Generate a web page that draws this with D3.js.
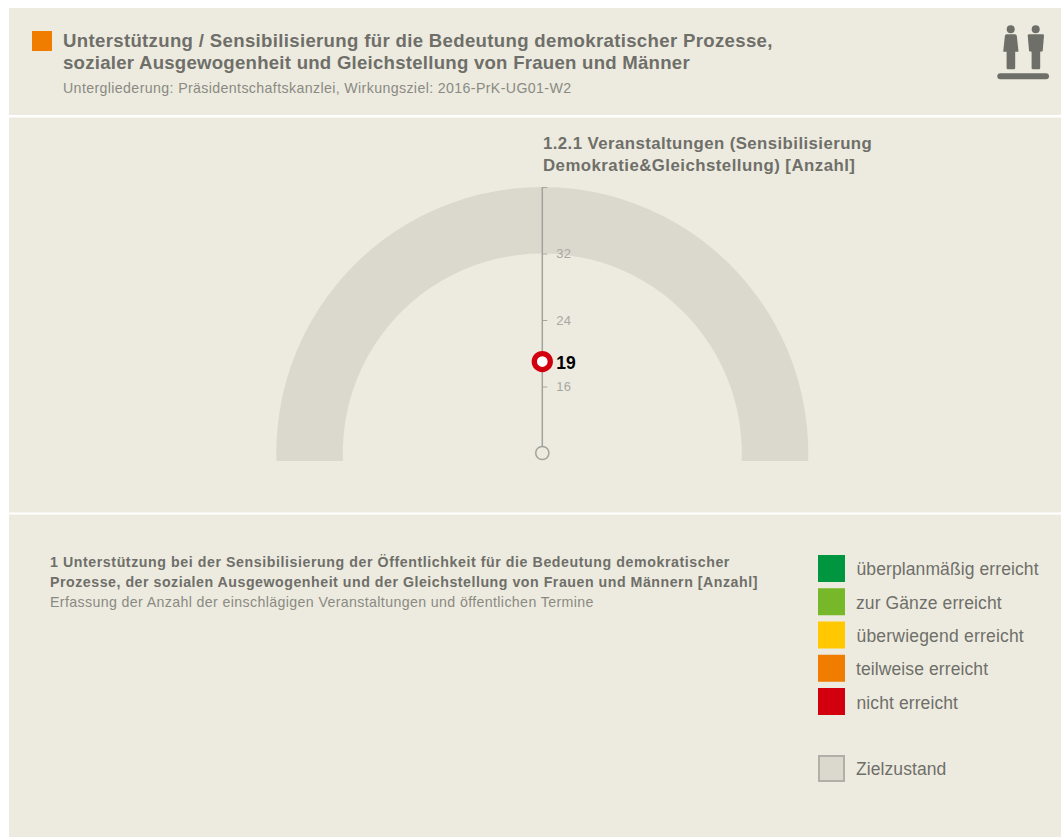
<!DOCTYPE html>
<html>
<head>
<meta charset="utf-8">
<script src="https://cdn.jsdelivr.net/npm/d3@7"></script>
<style>
html, body { margin: 0; padding: 0; background: #fff; }
svg { display: block; font-family: "Liberation Sans", sans-serif; }
</style>
</head>
<body>
<script>
const titleLines = [
    "Unterstützung / Sensibilisierung für die Bedeutung demokratischer Prozesse,",
    "sozialer Ausgewogenheit und Gleichstellung von Frauen und Männer"
]
const subtitle = "Untergliederung: Präsidentschaftskanzlei, Wirkungsziel: 2016-PrK-UG01-W2"
const gaugeTitle = ["1.2.1 Veranstaltungen (Sensibilisierung", "Demokratie&Gleichstellung) [Anzahl]"]
const noteBold = [
    "1 Unterstützung bei der Sensibilisierung der Öffentlichkeit für die Bedeutung demokratischer",
    "Prozesse, der sozialen Ausgewogenheit und der Gleichstellung von Frauen und Männern [Anzahl]"
]
const noteText = "Erfassung der Anzahl der einschlägigen Veranstaltungen und öffentlichen Termine"

const legendLabels = ["überplanmäßig erreicht", "zur Gänze erreicht", "überwiegend erreicht", "teilweise erreicht", "nicht erreicht"]
const legendColors = ["#009640", "#76b82a", "#ffc800", "#f07d00", "#d2000f"]
const targetLabel = "Zielzustand"

const axisTicks = [8, 16, 24, 32, 40]
const axisLabels = [16, 24, 32]
const targetRange = [32, 40]
const actualValue = 19

const width = 1061
const height = 837
const panelFill = "#edebdf"
const textDark = "#6f6f6a"
const textLight = "#8a8a83"

const svg = d3.select("body").append("svg")
    .attr("width", width)
    .attr("height", height)

// three panels
svg.selectAll("rect.panel")
    .data([[8, 107], [117.500, 395], [514.500, 322.500]])
    .enter()
    .append("rect")
    .attr("class", "panel")
    .attr("x", 9)
    .attr("y", d => d[0])
    .attr("width", width - 9)
    .attr("height", d => d[1])
    .attr("fill", panelFill)

// header
svg.append("rect")
    .attr("x", 32).attr("y", 31).attr("width", 20).attr("height", 20)
    .attr("fill", "#f07d00")

svg.selectAll("text.title")
    .data(titleLines)
    .enter()
    .append("text")
    .attr("class", "title")
    .attr("x", 63)
    .attr("y", (d, i) => 47 + i * 22)
    .attr("font-size", 18.600)
    .attr("font-weight", "bold")
    .attr("letter-spacing", (d, i) => i ? 0.25 : 0.33)
    .attr("fill", textDark)
    .text(d => d)

svg.append("text")
    .attr("x", 63).attr("y", 93)
    .attr("font-size", 14.200)
    .attr("letter-spacing", 0.37)
    .attr("fill", textLight)
    .text(subtitle)

// people icon
const icon = svg.append("g").attr("fill", "#6f6f6a")
icon.append("rect").attr("x", 997.300).attr("y", 73.300).attr("width", 51.700).attr("height", 6).attr("rx", 3)
icon.selectAll("circle")
    .data([1010.700, 1035.700])
    .enter()
    .append("circle")
    .attr("cx", d => d).attr("cy", 29.300).attr("r", 4)
icon.append("path").attr("d", "M1006.500 34.300h8.400q1.600 0 1.900 1.500l1.700 15.900h-3.300v16.300q0 1.300-1.300 1.300h-6q-1.300 0-1.300-1.300v-16.300h-3.400l1.700-15.900q.3-1.500 1.600-1.500z")
icon.append("path").attr("d", "M1029 34.300h13.700q1.300 0 1.300 1.300l-1.300 15.700-2.500.4v16.300q0 1.300-1.300 1.300h-6q-1.300 0-1.300-1.300v-16.300l-2.500-.4-1.400-15.700q0-1.300 1.300-1.300z")

// gauge
const cx = 542.300
const y = d3.scaleLinear().domain([8, 40]).range([453, 187])
const radius = v => y(8) - y(v)

svg.append("clipPath").attr("id", "gaugeClip")
    .append("rect").attr("x", 0).attr("y", 0).attr("width", width).attr("height", 461)

const arc = d3.arc()
    .innerRadius(radius(targetRange[0]))
    .outerRadius(radius(targetRange[1]))
    .startAngle(-Math.PI * 0.6)
    .endAngle(Math.PI * 0.6)

// flat lower edge of the ring comes from the clip
svg.append("g")
    .attr("clip-path", "url(#gaugeClip)")
    .append("path")
    .attr("d", arc())
    .attr("transform", `translate(${cx},${y(8)})`)
    .attr("fill", "#dbd9ce")

const axis = svg.append("g")
    .attr("transform", `translate(${cx},0)`)
    .call(d3.axisRight(y)
        .tickValues(axisTicks)
        .tickSize(5)
        .tickPadding(9)
        .tickFormat(d => axisLabels.includes(d) ? d : ""))

axis.select(".domain").remove()
axis.selectAll("line").attr("stroke", "#a8a8a3").attr("stroke-width", 1)
axis.selectAll("text")
    .attr("font-size", 13)
    .attr("font-family", "Liberation Sans, sans-serif")
    .attr("letter-spacing", 0.2)
    .attr("fill", "#a8a8a3")

svg.append("line")
    .attr("x1", cx).attr("x2", cx)
    .attr("y1", y(40)).attr("y2", y(8))
    .attr("stroke", "#a3a39e")
    .attr("stroke-width", 1.500)

svg.append("circle")
    .attr("cx", cx).attr("cy", y(8)).attr("r", 6.600)
    .attr("fill", panelFill)
    .attr("stroke", "#a3a39e")
    .attr("stroke-width", 1.500)

svg.append("circle")
    .attr("cx", cx).attr("cy", y(actualValue)).attr("r", 8)
    .attr("fill", "#fff")
    .attr("stroke", "#d2000f")
    .attr("stroke-width", 5.300)

svg.append("text")
    .attr("x", cx + 14).attr("y", y(actualValue) + 7)
    .attr("font-size", 17.500)
    .attr("font-weight", "bold")
    .attr("fill", "#000")
    .text(actualValue)

svg.selectAll("text.gauge-title")
    .data(gaugeTitle)
    .enter()
    .append("text")
    .attr("class", "gauge-title")
    .attr("x", 543)
    .attr("y", (d, i) => 149 + i * 22)
    .attr("font-size", 16.800)
    .attr("font-weight", "bold")
    .attr("letter-spacing", (d, i) => i ? 0.48 : 0.43)
    .attr("fill", textDark)
    .text(d => d)

// note below
svg.selectAll("text.note")
    .data(noteBold)
    .enter()
    .append("text")
    .attr("class", "note")
    .attr("x", 50)
    .attr("y", (d, i) => 567 + i * 20)
    .attr("font-size", 14.200)
    .attr("font-weight", "bold")
    .attr("letter-spacing", (d, i) => i ? 0.52 : 0.57)
    .attr("fill", textDark)
    .text(d => d)

svg.append("text")
    .attr("x", 50).attr("y", 607)
    .attr("font-size", 14.200)
    .attr("letter-spacing", 0.37)
    .attr("fill", textLight)
    .text(noteText)

// legend
const legendY = d3.scalePoint().domain(legendLabels).range([555, 688])

const row = svg.selectAll("g.legend")
    .data(legendLabels)
    .enter()
    .append("g")
    .attr("class", "legend")
    .attr("transform", d => `translate(818,${legendY(d)})`)

row.append("rect")
    .attr("width", 27).attr("height", 27)
    .attr("fill", (d, i) => legendColors[i])

row.append("text")
    .attr("x", (d, i) => i === 1 || i === 3 ? 38 : 38.500)
    .attr("y", (d, i) => i === 1 || i === 4 ? 21 : 20)
    .attr("font-size", 17.500)
    .attr("letter-spacing", (d, i) => i === 2 ? 0.2 : 0.1)
    .attr("fill", textDark)
    .text(d => d)

svg.append("rect")
    .attr("x", 819).attr("y", 756).attr("width", 25).attr("height", 25)
    .attr("fill", "#dbd9ce")
    .attr("stroke", "#b0b0a9")
    .attr("stroke-width", 2)

svg.append("text")
    .attr("x", 856).attr("y", 775)
    .attr("font-size", 17.500)
    .attr("letter-spacing", 0.08)
    .attr("fill", textDark)
    .text(targetLabel)
</script>
</body>
</html>
